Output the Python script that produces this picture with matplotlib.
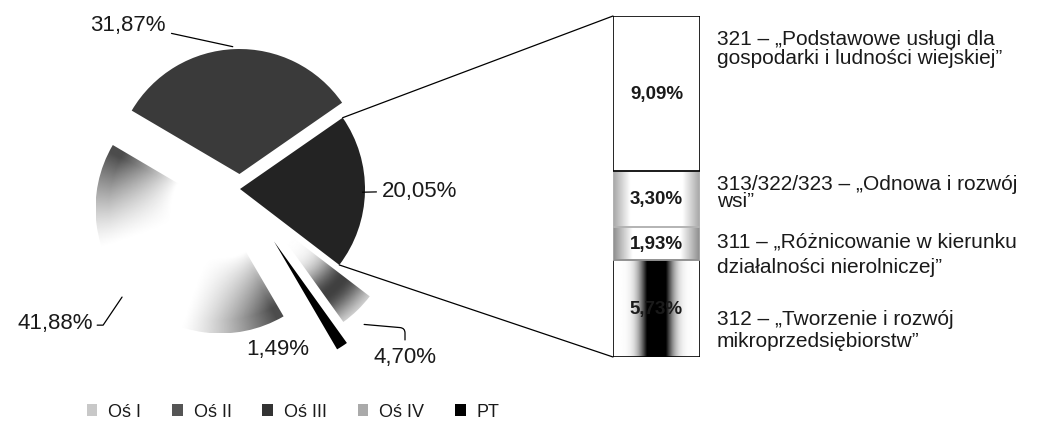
import numpy as np
import matplotlib
matplotlib.use('Agg')
from matplotlib import pyplot as plt
from matplotlib.patches import ConnectionPatch, Patch

plt.rcParams['font.family'] = ['Liberation Sans', 'DejaVu Sans']

# Dane: udział osi w budżecie
axes_names = ['Oś I', 'Oś II', 'Oś III', 'Oś IV', 'PT']
axes_shares = [41.88, 31.87, 20.05, 4.70, 1.49]
axes_labels = ['41,88%', '31,87%', '20,05%', '4,70%', '1,49%']

# Rozbicie osi III (od dołu słupka)
measure_shares = [5.73, 1.93, 3.30, 9.09]
measure_labels = ['5,73%', '1,93%', '3,30%', '9,09%']
measure_names = [
    ['312 – „Tworzenie i rozwój', 'mikroprzedsiębiorstw”'],
    ['311 – „Różnicowanie w kierunku', 'działalności nierolniczej”'],
    ['313/322/323 – „Odnowa i rozwój', 'wsi”'],
    ['321 – „Podstawowe usługi dla', 'gospodarki i ludności wiejskiej”'],
]

# Układ (piksele)
W, H = 1037, 431
CX, CY, R = 240, 190, 125          # środek i promień koła
PIE_W = 600
BAR_X0, BAR_X1, BAR_Y0, BAR_Y1 = 613, 700, 17, 358
TEXT_X = 717
text_baselines = [(325, 347), (248, 273), (190, 207), (45, 64)]
TXT = '#1a1a1a'


def pdata(x, y):
    return ((x - CX) / R, (CY - y) / R)


def rim(w, ang, k=1.0):
    a = np.radians(ang)
    return (w.center[0] + k * w.r * np.cos(a), w.center[1] + k * w.r * np.sin(a))


def shade_wedge(ax, w, func):
    cx, cy = w.center
    n = 300
    xs = np.linspace(cx - w.r, cx + w.r, n)
    ys = np.linspace(cy - w.r, cy + w.r, n)
    X, Y = np.meshgrid(xs, ys)
    rr = np.hypot(X - cx, Y - cy) / w.r
    th = np.degrees(np.arctan2(Y - cy, X - cx))
    u = ((th - w.theta1) % 360) / (w.theta2 - w.theta1)
    img = func(rr, np.clip(u, 0, 1))
    im = ax.imshow(img, extent=(xs[0], xs[-1], ys[0], ys[-1]), origin='lower',
                   cmap='gray', vmin=0, vmax=1, aspect='auto', zorder=2,
                   interpolation='bilinear')
    im.set_clip_path(w)


fig = plt.figure(figsize=(W / 100, H / 100), dpi=100)

# Koło
ax = fig.add_axes([0, 0, PIE_W / W, 1])
wedges, _ = ax.pie(axes_shares, startangle=300.3, counterclock=False,
                   explode=[0.22, 0.12, 0.0, 0.35, 0.5],
                   colors=['white', '#3a3a3a', '#232323', 'white', 'black'],
                   wedgeprops=dict(linewidth=0))

shade_wedge(ax, wedges[0], lambda rr, u: 1 - 0.7
            * np.clip((np.abs(u - 0.5) * 2 - 0.35) / 0.6, 0, 1) ** 1.3
            * np.clip((rr - 0.4) / 0.5, 0, 1))
shade_wedge(ax, wedges[3], lambda rr, u: 1 - 0.75
            * np.exp(-((rr - 0.75) / 0.22) ** 2))

ax.set_xlim(-CX / R, (PIE_W - CX) / R)
ax.set_ylim((CY - H) / R, CY / R)
ax.set_aspect('auto')
ax.axis('off')

# Etykiety koła
lbl = dict(fontsize=16, color=TXT)
line = dict(arrowstyle='-', color='black', lw=0.9, shrinkA=2, shrinkB=0)
ax.annotate(axes_labels[1], xy=rim(wedges[1], 93, 1.02), xytext=pdata(166, 25),
            ha='right', va='center', arrowprops=line, **lbl)
ax.annotate(axes_labels[2], xy=rim(wedges[2], -1.5, 0.98), xytext=pdata(382, 192),
            ha='left', va='center', arrowprops=line, **lbl)
ax.annotate(axes_labels[0], xy=rim(wedges[0], 222, 1.06), xytext=pdata(93, 323),
            ha='right', va='center',
            arrowprops=dict(line, relpos=(1, 0.35), shrinkA=1,
                            connectionstyle='angle,angleA=0,angleB=56,rad=0'),
            **lbl)
ax.annotate(axes_labels[3], xy=rim(wedges[3], -48, 1.12), xytext=pdata(405, 357),
            ha='center', va='center',
            arrowprops=dict(line, connectionstyle='angle,angleA=90,angleB=175,rad=5'),
            **lbl)
ax.text(*pdata(278, 350), axes_labels[4], ha='center', va='center', **lbl)

# Słupek z rozbiciem osi III
ax_bar = fig.add_axes([BAR_X0 / W, 1 - BAR_Y1 / H, (BAR_X1 - BAR_X0) / W,
                       (BAR_Y1 - BAR_Y0) / H])
bottoms = np.concatenate([[0], np.cumsum(measure_shares)[:-1]])
total = float(np.sum(measure_shares))
bars = ax_bar.bar(0, measure_shares, bottom=bottoms, width=1, facecolor='none',
                  edgecolor=['black', '#aaaaaa', '#b5b5b5', 'black'],
                  linewidth=1.2, zorder=3)

xs = np.linspace(-0.5, 0.5, 200)
profiles = [
    1 - np.clip(1.5 * np.exp(-(xs / 0.17) ** 2), 0, 1),
    1 - 0.45 * np.clip((np.abs(xs) * 2 - 0.55) / 0.45, 0, 1),
    1 - 0.35 * np.clip((np.abs(xs) * 2 - 0.6) / 0.4, 0, 1),
    np.ones_like(xs),
]
for b, prof, y0, h in zip(bars, profiles, bottoms, measure_shares):
    im = ax_bar.imshow(np.tile(prof, (2, 1)), extent=(-0.5, 0.5, y0, y0 + h),
                       cmap='gray', vmin=0, vmax=1, aspect='auto', zorder=2,
                       interpolation='bilinear')
    im.set_clip_path(b)
ax_bar.set_xlim(-0.5, 0.5)
ax_bar.set_ylim(0, total)
ax_bar.axis('off')
ax_bar.bar_label(bars, labels=measure_labels, label_type='center',
                 fontsize=13.5, fontweight='bold', color=TXT, zorder=4)

# Linie łączące
w3 = wedges[2]
for ang, yb in [(w3.theta2, total), (w3.theta1, 0)]:
    con = ConnectionPatch(xyA=rim(w3, ang), coordsA=ax.transData,
                          xyB=(-0.5, yb), coordsB=ax_bar.transData,
                          color='black', lw=0.9)
    fig.add_artist(con)

# Opisy działań
for lines, ys in zip(measure_names, text_baselines):
    for s, y in zip(lines, ys):
        fig.text(TEXT_X / W, 1 - y / H, s, ha='left', va='baseline',
                 fontsize=15, color=TXT)

# Legenda
handles = [Patch(facecolor='#c8c8c8'), Patch(facecolor='#555555'),
           Patch(facecolor='#333333'), Patch(facecolor='#aaaaaa'),
           Patch(facecolor='black')]
fig.legend(handles, axes_names, loc='center', bbox_to_anchor=(293 / W, 1 - 413 / H),
           ncol=5, frameon=False, fontsize=13, handlelength=0.6, handleheight=0.6,
           handletextpad=0.6, columnspacing=1.7, labelcolor=TXT)

fig.savefig('out.png', dpi=100)
